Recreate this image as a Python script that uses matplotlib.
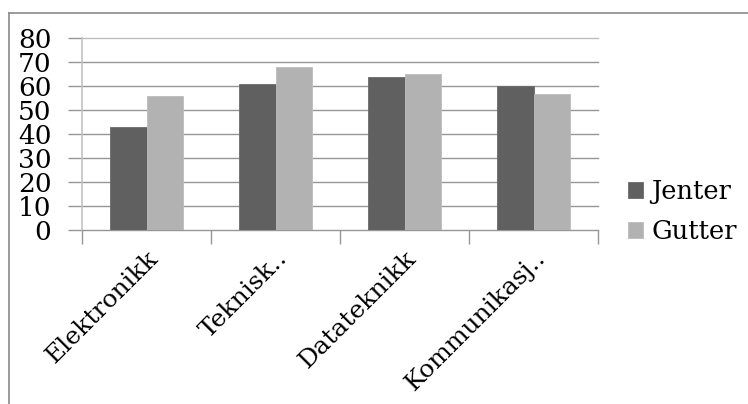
"""Grouped bar chart: Jenter vs Gutter per study programme."""

import matplotlib

matplotlib.use("Agg")

import matplotlib.pyplot as plt
import numpy as np
from matplotlib.lines import Line2D

categories = ["Elektronikk", "Teknisk..", "Datateknikk", "Kommunikasj.."]
series_names = ["Jenter", "Gutter"]
jenter = [43, 61, 64, 60]
gutter = [56, 68, 65, 57]
y_ticks = [0, 10, 20, 30, 40, 50, 60, 70, 80]

W, H = 748, 404
DARK = "#606060"
LIGHT = "#b2b2b2"
GRID = "#969696"

plt.rcParams["font.family"] = ["DejaVu Serif"]

fig = plt.figure(figsize=(W / 100, H / 100), dpi=100)
ax = fig.add_axes([82 / W, 1 - 230 / H, (598 - 82) / W, (230 - 38.5) / H])

x = np.arange(len(categories))
width = 0.285
ax.bar(x - width / 2, jenter, width, color=DARK, edgecolor="#6a6a6a", linewidth=0.6,
       label=series_names[0], zorder=3)
ax.bar(x + width / 2, gutter, width, color=LIGHT, edgecolor="#bcbcbc", linewidth=0.6,
       label=series_names[1], zorder=3)

ax.set_xlim(-0.5, len(categories) - 0.5)
ax.set_ylim(0, 80)

# y axis: gridlines plus short outward ticks
ax.set_yticks(y_ticks)
ax.set_yticklabels([str(v) for v in y_ticks], fontsize=19)
ax.tick_params(axis="y", length=10, width=1, color=GRID, pad=12)
for v in y_ticks[1:]:
    ax.axhline(v, color=GRID if v < 80 else "#bdbdbd", linewidth=1, zorder=1,
               clip_on=False)

# x axis: ticks at category boundaries, labels at centres
ax.set_xticks(x)
ax.set_xticklabels(categories, fontsize=18, rotation=45, ha="right",
                   rotation_mode="anchor")
ax.tick_params(axis="x", which="major", length=0, pad=12)
ax.set_xticks(np.arange(len(categories) + 1) - 0.5, minor=True)
ax.tick_params(axis="x", which="minor", length=10, width=1, color=GRID)

for side in ("top", "right"):
    ax.spines[side].set_visible(False)
ax.spines["left"].set_color("#c4c4c4")
ax.spines["left"].set_linewidth(1.2)
ax.spines["bottom"].set_color(GRID)
ax.spines["bottom"].set_linewidth(1)

ax.legend(
    loc="center left",
    bbox_to_anchor=(628 / W, 1 - 211.5 / H),
    bbox_transform=fig.transFigure,
    frameon=False,
    fontsize=18.5,
    handlelength=0.6,
    handleheight=0.6,
    handletextpad=0.3,
    labelspacing=0.6,
    borderpad=0,
    borderaxespad=0,
)

# outer frame around the chart area
fig.add_artist(Line2D([8.5 / W, 8.5 / W], [0, 1 - 12.5 / H],
                      transform=fig.transFigure, color="#8a8a8a", linewidth=1.2))
fig.add_artist(Line2D([8.5 / W, 1], [1 - 12.5 / H, 1 - 12.5 / H],
                      transform=fig.transFigure, color="#8a8a8a", linewidth=1.2))

fig.savefig("out.png", dpi=100)
